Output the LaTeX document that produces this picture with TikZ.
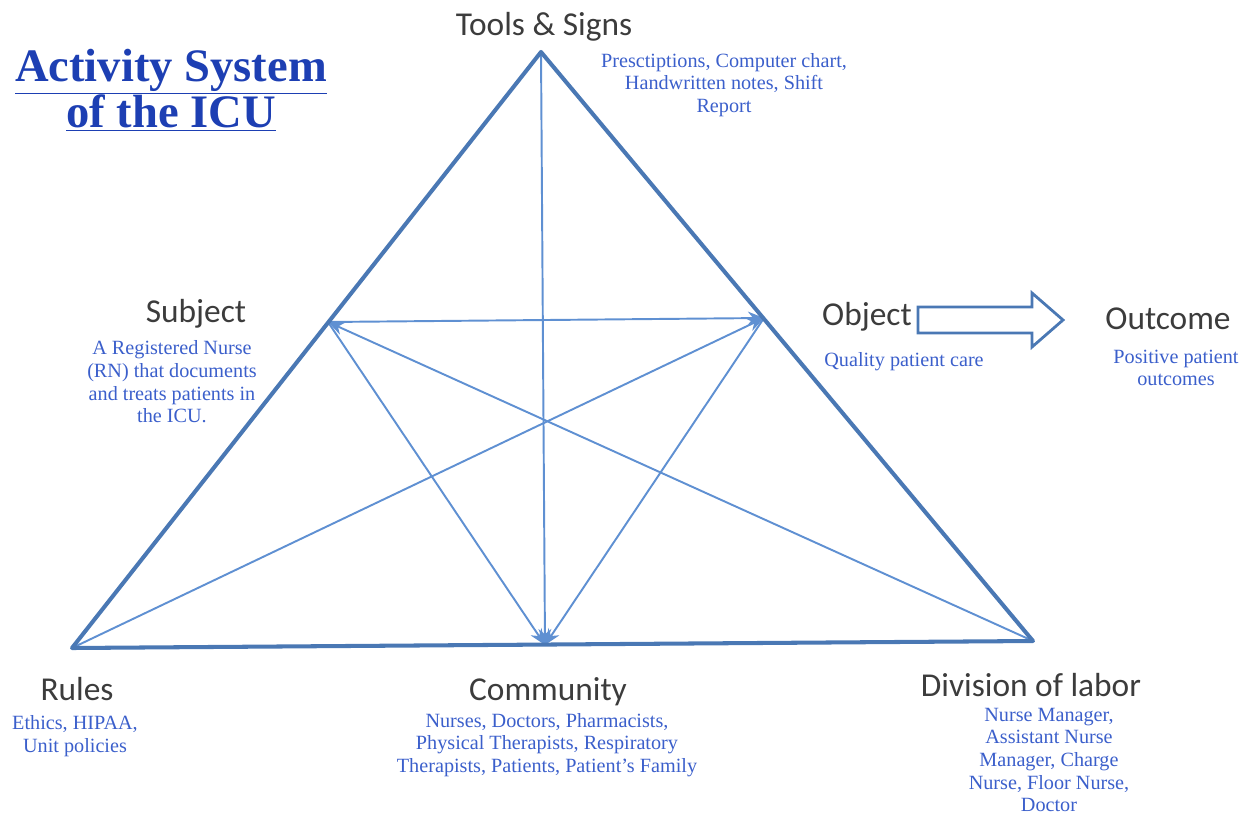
\documentclass[tikz,border=0pt]{standalone}
\usepackage{fontspec}
\setmainfont{Liberation Serif}
\newfontfamily\labelfont{Carlito}
\usetikzlibrary{arrows.meta,positioning}

\definecolor{edgeblue}{HTML}{4A78B4}
\definecolor{lineblue}{HTML}{5F90D2}
\definecolor{noteblue}{HTML}{3B5FCB}
\definecolor{titleblue}{HTML}{1D3FB3}
\definecolor{labelgray}{HTML}{3C3C3C}

\begin{document}
\begin{tikzpicture}[
    x=0.02cm, y=-0.02cm,
    corner/.style={font=\labelfont\fontsize{19}{22}\selectfont, text=labelgray, inner sep=0pt},
    note/.style={font=\fontsize{11.5}{12.9}\selectfont, text=noteblue, align=center, inner sep=0pt},
    side/.style={draw=edgeblue, line width=2.3pt, line join=round},
    link/.style={draw=lineblue, line width=1.1pt},
    tip/.style={link, -{Stealth[length=3.2mm, width=2.6mm]}},
]
    \useasboundingbox (0,0) rectangle (1247,815);

    % corners of the triangle and the side midpoints
    \coordinate (tools) at (541,52);
    \coordinate (rules) at (72,648);
    \coordinate (labor) at (1033,641);
    \coordinate (subj) at (328,322);
    \coordinate (obj) at (764,318);
    \coordinate (comm) at (545,645);

    % title
    \node[font=\bfseries\fontsize{26.5}{27}\selectfont, text=titleblue, align=center, inner sep=0pt]
        (title) at (171,90) {\underline{Activity System}\\[-1pt]\underline{of the ICU}};

    % inner connectors
    \draw[tip] (subj) -- (obj);
    \draw[tip] (rules) -- (obj);
    \draw[tip] (labor) -- (subj);
    \draw[tip] (subj) -- (comm);
    \draw[tip] (tools) -- (comm);
    \draw[tip] (obj) -- (comm);

    % outer triangle
    \draw[side] (tools) -- (labor) -- (rules) -- cycle;

    % labels at the corners
    \node[corner] (toolsL) at (544,27) {Tools \& Signs};
    \node[note] (toolsN) at (724,85) {Presctiptions, Computer chart,\\Handwritten notes, Shift\\Report};

    \node[corner] (subjL) at (196,314) {Subject};
    \node[note] (subjN) at (172,382)
        {A Registered Nurse\\(RN) that documents\\and treats patients in\\the ICU.};

    \node[corner] (objL) at (867,317) {Object};
    \node[note] (objN) at (904,362) {Quality patient care};

    \node[corner] (outL) at (1168,319) {Outcome};
    \node[note] (outN) at (1176,368) {Positive patient\\outcomes};

    \node[corner] (rulesL) at (77,689) {Rules};
    \node[note] (rulesN) at (75,736) {Ethics, HIPAA,\\Unit policies};

    \node[corner] (commL) at (548,692) {Community};
    \node[note] (commN) at (547,745)
        {Nurses, Doctors, Pharmacists,\\Physical Therapists, Respiratory\\Therapists, Patients, Patient's Family};

    \node[corner] (laborL) at (1031,685) {Division of labor};
    \node[note] (laborN) at (1049,760)
        {Nurse Manager,\\Assistant Nurse\\Manager, Charge\\Nurse, Floor Nurse,\\Doctor};

    % block arrow from object to outcome
    \draw[draw=edgeblue, line width=1.6pt, line join=miter]
        (918,307) -- (1032,307) -- (1032,293) -- (1063,320) -- (1032,347)
        -- (1032,333) -- (918,333) -- cycle;
\end{tikzpicture}
\end{document}
